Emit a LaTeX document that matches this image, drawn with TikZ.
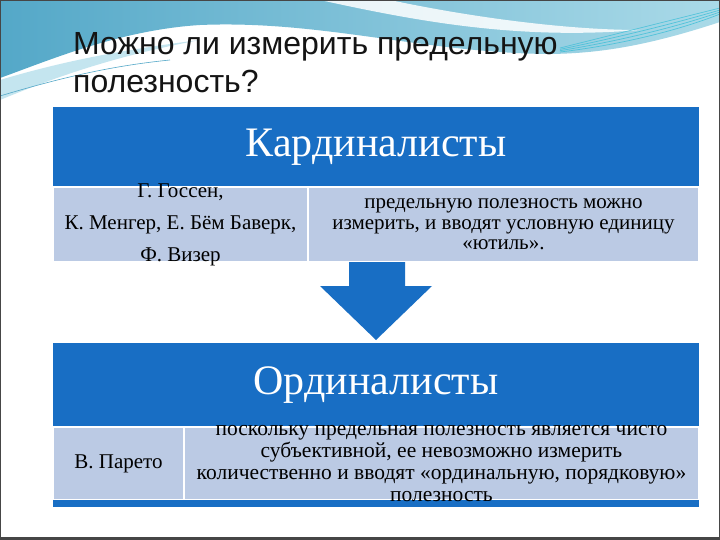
\documentclass[tikz,border=0pt]{standalone}
\usepackage{fontspec}
\setmainfont{Liberation Serif}
\newfontfamily\titlefont{Liberation Sans}
\definecolor{hdrblue}{RGB}{24,110,196}
\definecolor{rowblue}{RGB}{187,202,228}
\definecolor{teal1}{RGB}{84,168,200}
\definecolor{teal2}{RGB}{170,218,232}
\definecolor{cyanline}{RGB}{60,190,215}
\definecolor{titletext}{RGB}{20,20,20}
\definecolor{framegray}{RGB}{70,70,70}
\tikzset{
  hdr/.style={fill=hdrblue, text=white, font=\fontsize{42}{46}\selectfont, inner sep=0pt, minimum height=80pt, minimum width=646pt},
  cell/.style={fill=rowblue, draw=white, line width=1.2pt, inner sep=0pt},
  celltext/.style={align=center, inner sep=0pt, text=black},
  ttl/.style={font=\titlefont\fontsize{32}{36}\selectfont, text=titletext, inner sep=0pt, anchor=base west},
}
\begin{document}
\begin{tikzpicture}[x=1pt,y=-1pt]
\useasboundingbox (0,0) rectangle (720,540);
\fill[white] (0,0) rectangle (720,540);
% background swoosh
\shade[left color=teal1, right color=teal2]
  (0,0) -- (720,0) -- (720,22) .. controls (650,45) and (600,54) .. (545,54)
  .. controls (420,52) and (320,20) .. (200,25)
  .. controls (120,30) and (50,60) .. (0,78) -- cycle;
\fill[white, opacity=0.85] (320,0) .. controls (420,22) and (520,40) .. (640,30)
  .. controls (560,30) and (460,15) .. (390,0) -- cycle;
\fill[teal2!70!white] (0,80) .. controls (60,62) and (120,50) .. (200,40)
  .. controls (120,55) and (60,75) .. (0,100) -- cycle;
\draw[teal1, line width=0.6pt] (0,96) .. controls (60,78) and (110,66) .. (170,60);
\foreach \d in {0,4,8,12}{
  \draw[cyanline, line width=0.7pt, opacity=0.8] (560,52-\d/3) .. controls (620,45-\d) and (680,30-\d) .. (720,14-\d/2);
}
% title
\node[ttl] (title1) at (73,55) {Можно ли измерить предельную};
\node[ttl] (title2) at (73,93) {полезность?};
% top table
\node[hdr] (h1) at (376,147) {Кардиналисты};
\node[cell, minimum width=255pt, minimum height=75pt] (c1l) at (180.5,224.5) {};
\node[cell, minimum width=391pt, minimum height=75pt] (c1r) at (503.5,224.5) {};
\node[celltext, font=\fontsize{21}{32}\selectfont] (t1l) at (c1l.center) {Г. Госсен,\\К. Менгер, Е. Бём Баверк,\\Ф. Визер};
\node[celltext, font=\fontsize{21}{20.5}\selectfont] (t1r) at (c1r.center) {предельную полезность можно\\измерить, и вводят условную единицу\\«ютиль».};
% arrow
\fill[hdrblue] (349,262) -- (405,262) -- (405,286) -- (432,286) -- (376,340) -- (320,286) -- (349,286) -- cycle;
% bottom table
\node[hdr, minimum height=84pt] (h2) at (376,385) {Ординалисты};
\node[cell, minimum width=131pt, minimum height=73pt] (c2l) at (118.5,463.5) {};
\node[cell, minimum width=515pt, minimum height=73pt] (c2r) at (441.5,463.5) {};
\fill[hdrblue] (53,500) rectangle (699,507);
\node[celltext, font=\fontsize{21}{22}\selectfont] (t2l) at (c2l.center) {В. Парето};
\node[celltext, font=\fontsize{21.5}{22}\selectfont] (t2r) at (c2r.center) {поскольку предельная полезность является чисто\\субъективной, ее невозможно измерить\\количественно и вводят «ординальную, порядковую»\\полезность};
% frame
\draw[framegray, line width=1pt] (0.5,0.5) rectangle (719.5,539.5);
\draw[framegray, line width=2.5pt] (0,538.5) -- (720,538.5);
\end{tikzpicture}
\end{document}
